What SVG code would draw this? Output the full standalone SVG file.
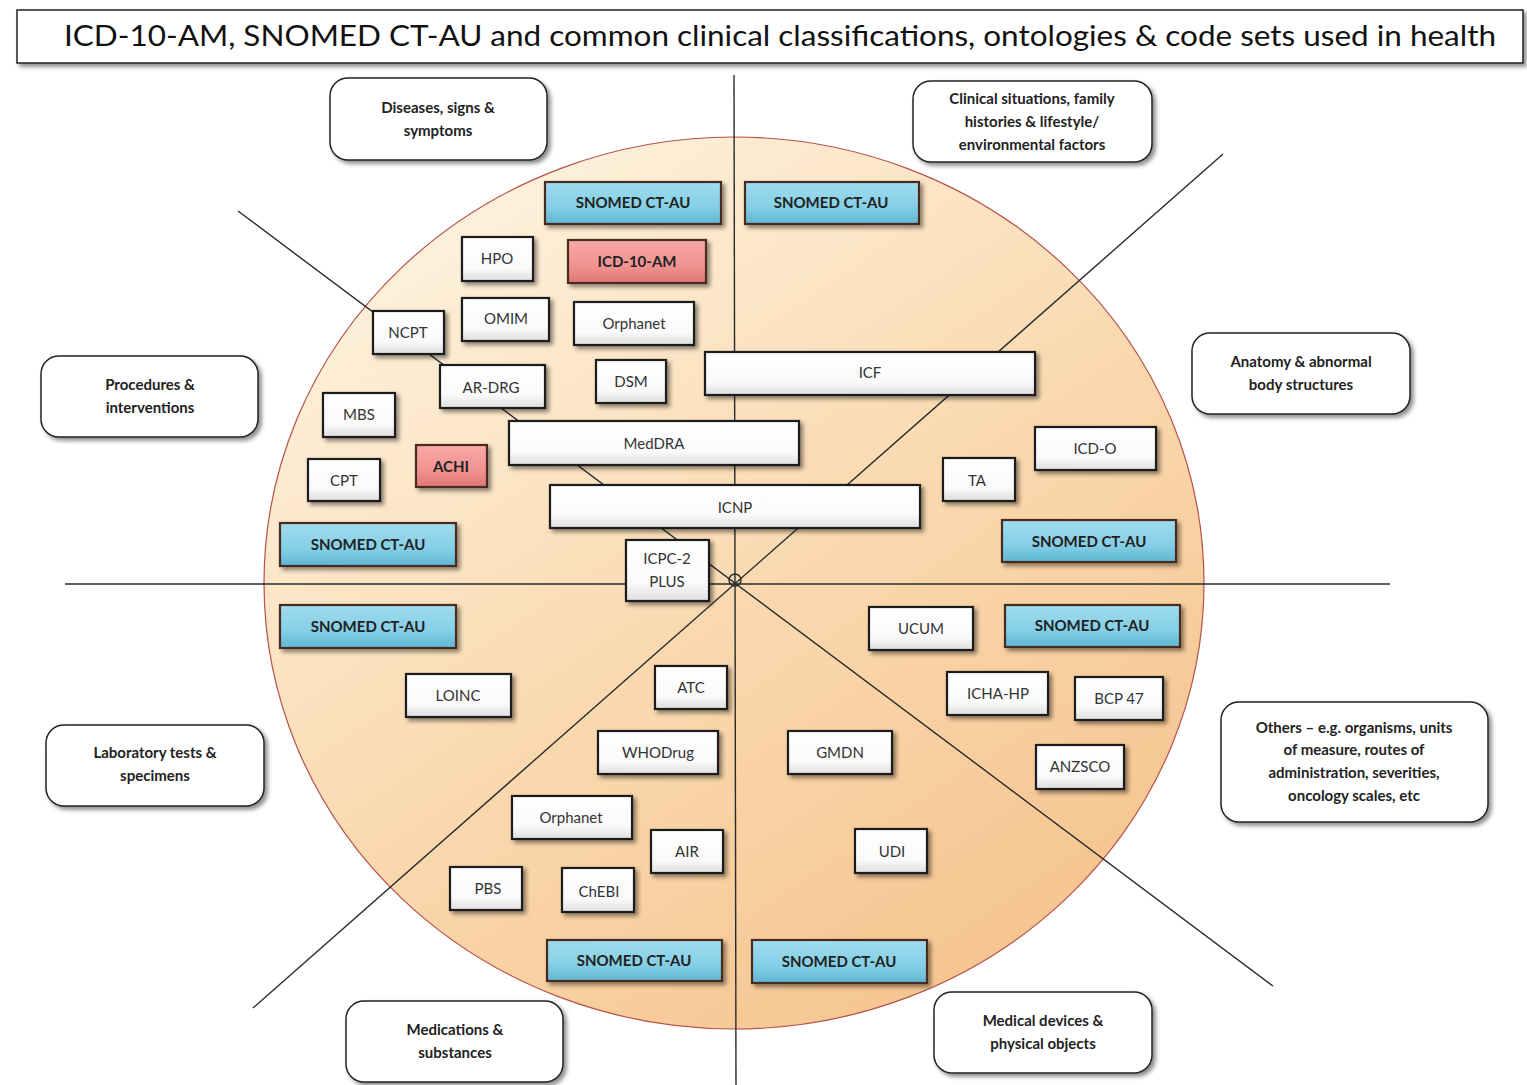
<svg xmlns="http://www.w3.org/2000/svg" width="1527" height="1085" viewBox="0 0 1527 1085">
<defs>
<linearGradient id="disc" x1="0.2" y1="0.1" x2="0.8" y2="0.95">
<stop offset="0" stop-color="#fdf0da"/>
<stop offset="0.5" stop-color="#fad9b0"/>
<stop offset="1" stop-color="#f5c48e"/>
</linearGradient>
<linearGradient id="wg" x1="0" y1="0" x2="0" y2="1">
<stop offset="0" stop-color="#ffffff"/>
<stop offset="0.7" stop-color="#fafafa"/>
<stop offset="1" stop-color="#dedede"/>
</linearGradient>
<linearGradient id="bg" x1="0" y1="0" x2="0" y2="1">
<stop offset="0" stop-color="#9fdcee"/>
<stop offset="0.6" stop-color="#85cfe6"/>
<stop offset="1" stop-color="#5fb6d2"/>
</linearGradient>
<linearGradient id="pg" x1="0" y1="0" x2="0" y2="1">
<stop offset="0" stop-color="#f8a8a6"/>
<stop offset="0.6" stop-color="#f09390"/>
<stop offset="1" stop-color="#e07774"/>
</linearGradient>
<filter id="sh" x="-10%" y="-20%" width="130%" height="150%">
<feDropShadow dx="3" dy="3" stdDeviation="2" flood-color="#000" flood-opacity="0.45"/>
</filter>
</defs>
<style>
.t{font-family:Lato,"Open Sans","Liberation Sans",sans-serif;font-size:15px;fill:#333;text-anchor:middle}
.b{font-weight:bold;fill:#222}
.cat{fill:#fff;stroke:#222;stroke-width:1.5;filter:url(#sh)}
.box{fill:url(#wg);stroke:#1e1e1e;stroke-width:2.2;filter:url(#sh)}
.blue{fill:url(#bg);stroke:#4a2a22;stroke-width:2.2;filter:url(#sh)}
.pink{fill:url(#pg);stroke:#4a2a22;stroke-width:2.2;filter:url(#sh)}
.ln{stroke:#2a2a2a;stroke-width:1.4;fill:none}
</style>
<rect width="1527" height="1085" fill="#fff"/>
<g id="title">
<rect x="17" y="10" width="1506" height="53" fill="#fff" stroke="#222" stroke-width="1.5" filter="url(#sh)"/>
<text x="780" y="46" class="t" style="font-size:28px;fill:#111" textLength="1432" lengthAdjust="spacingAndGlyphs">ICD-10-AM, SNOMED CT-AU and common clinical classifications, ontologies &amp; code sets used in health</text>
</g>
<ellipse id="disc-bg" cx="734" cy="583" rx="470" ry="446" fill="url(#disc)" stroke="#b5524a" stroke-width="1.2"/>
<g id="connectors">
<line class="ln" x1="734" y1="75" x2="736" y2="1085"/>
<line class="ln" x1="65" y1="584" x2="1390" y2="584"/>
<line class="ln" x1="238" y1="211" x2="1273" y2="986"/>
<line class="ln" x1="1223" y1="154" x2="253" y2="1008"/>
<circle class="ln" cx="735" cy="580" r="6"/>
</g>
<g id="cat-diseases"><rect class="cat" x="330" y="78" width="217" height="82" rx="18"/><text class="t b" x="438" y="113">Diseases, signs &amp;</text><text class="t b" x="438" y="136">symptoms</text></g>
<g id="cat-clinical"><rect class="cat" x="913" y="81" width="239" height="81" rx="18"/><text class="t b" x="1032" y="104">Clinical situations, family</text><text class="t b" x="1032" y="127">histories &amp; lifestyle/</text><text class="t b" x="1032" y="150">environmental factors</text></g>
<g id="cat-procedures"><rect class="cat" x="41" y="356" width="217" height="81" rx="18"/><text class="t b" x="150" y="390">Procedures &amp;</text><text class="t b" x="150" y="413">interventions</text></g>
<g id="cat-anatomy"><rect class="cat" x="1192" y="333" width="218" height="81" rx="18"/><text class="t b" x="1301" y="367">Anatomy &amp; abnormal</text><text class="t b" x="1301" y="390">body structures</text></g>
<g id="cat-lab"><rect class="cat" x="46" y="725" width="218" height="81" rx="18"/><text class="t b" x="155" y="758">Laboratory tests &amp;</text><text class="t b" x="155" y="781">specimens</text></g>
<g id="cat-others"><rect class="cat" x="1221" y="702" width="267" height="120" rx="18"/><text class="t b" x="1354" y="733">Others – e.g. organisms, units</text><text class="t b" x="1354" y="755">of measure, routes of</text><text class="t b" x="1354" y="778">administration, severities,</text><text class="t b" x="1354" y="801">oncology scales, etc</text></g>
<g id="cat-medications"><rect class="cat" x="346" y="1001" width="217" height="81" rx="18"/><text class="t b" x="455" y="1035">Medications &amp;</text><text class="t b" x="455" y="1058">substances</text></g>
<g id="cat-devices"><rect class="cat" x="934" y="992" width="218" height="81" rx="18"/><text class="t b" x="1043" y="1026">Medical devices &amp;</text><text class="t b" x="1043" y="1049">physical objects</text></g>

<g id="snomed-1"><rect class="blue" x="545" y="182" width="176" height="42"/><text class="t b" x="633" y="208">SNOMED CT-AU</text></g>
<g id="snomed-2"><rect class="blue" x="745" y="182" width="174" height="42"/><text class="t b" x="831" y="208">SNOMED CT-AU</text></g>
<g id="hpo"><rect class="box" x="462" y="237" width="71" height="44"/><text class="t" x="497" y="264">HPO</text></g>
<g id="icd10am"><rect class="pink" x="568" y="240" width="138" height="43"/><text class="t b" x="637" y="267">ICD-10-AM</text></g>
<g id="omim"><rect class="box" x="462" y="298" width="87" height="43"/><text class="t" x="506" y="324">OMIM</text></g>
<g id="orphanet-1"><rect class="box" x="574" y="302" width="120" height="43"/><text class="t" x="634" y="329">Orphanet</text></g>
<g id="ncpt"><rect class="box" x="373" y="311" width="71" height="43"/><text class="t" x="408" y="338">NCPT</text></g>
<g id="ardrg"><rect class="box" x="440" y="365" width="105" height="43"/><text class="t" x="491" y="393">AR-DRG</text></g>
<g id="dsm"><rect class="box" x="596" y="360" width="70" height="43"/><text class="t" x="631" y="387">DSM</text></g>
<g id="icf"><rect class="box" x="705" y="352" width="330" height="43"/><text class="t" x="870" y="378">ICF</text></g>
<g id="mbs"><rect class="box" x="323" y="393" width="72" height="44"/><text class="t" x="359" y="420">MBS</text></g>
<g id="meddra"><rect class="box" x="509" y="421" width="290" height="44"/><text class="t" x="654" y="449">MedDRA</text></g>
<g id="achi"><rect class="pink" x="416" y="445" width="71" height="42"/><text class="t b" x="451" y="472">ACHI</text></g>
<g id="cpt"><rect class="box" x="308" y="459" width="72" height="42"/><text class="t" x="344" y="486">CPT</text></g>
<g id="icnp"><rect class="box" x="550" y="485" width="370" height="43"/><text class="t" x="735" y="513">ICNP</text></g>
<g id="ta"><rect class="box" x="943" y="458" width="72" height="43"/><text class="t" x="977" y="486">TA</text></g>
<g id="icdo"><rect class="box" x="1035" y="427" width="121" height="43"/><text class="t" x="1095" y="454">ICD-O</text></g>
<g id="snomed-3"><rect class="blue" x="280" y="523" width="176" height="43"/><text class="t b" x="368" y="550">SNOMED CT-AU</text></g>
<g id="snomed-4"><rect class="blue" x="1002" y="520" width="174" height="42"/><text class="t b" x="1089" y="547">SNOMED CT-AU</text></g>
<g id="icpc2"><rect class="box" x="626" y="540" width="83" height="61"/><text class="t" x="667" y="564">ICPC-2</text><text class="t" x="667" y="587">PLUS</text></g>
<g id="snomed-5"><rect class="blue" x="280" y="605" width="176" height="43"/><text class="t b" x="368" y="632">SNOMED CT-AU</text></g>
<g id="ucum"><rect class="box" x="869" y="607" width="104" height="43"/><text class="t" x="921" y="634">UCUM</text></g>
<g id="snomed-6"><rect class="blue" x="1005" y="605" width="175" height="42"/><text class="t b" x="1092" y="631">SNOMED CT-AU</text></g>
<g id="loinc"><rect class="box" x="406" y="674" width="105" height="43"/><text class="t" x="458" y="701">LOINC</text></g>
<g id="atc"><rect class="box" x="655" y="666" width="72" height="43"/><text class="t" x="691" y="693">ATC</text></g>
<g id="ichahp"><rect class="box" x="947" y="672" width="101" height="43"/><text class="t" x="998" y="699">ICHA-HP</text></g>
<g id="bcp47"><rect class="box" x="1075" y="677" width="88" height="43"/><text class="t" x="1119" y="704">BCP 47</text></g>
<g id="whodrug"><rect class="box" x="598" y="731" width="120" height="43"/><text class="t" x="658" y="758">WHODrug</text></g>
<g id="gmdn"><rect class="box" x="788" y="731" width="104" height="43"/><text class="t" x="840" y="758">GMDN</text></g>
<g id="anzsco"><rect class="box" x="1036" y="745" width="88" height="44"/><text class="t" x="1080" y="772">ANZSCO</text></g>
<g id="orphanet-2"><rect class="box" x="512" y="796" width="120" height="43"/><text class="t" x="571" y="823">Orphanet</text></g>
<g id="air"><rect class="box" x="651" y="830" width="72" height="43"/><text class="t" x="687" y="857">AIR</text></g>
<g id="udi"><rect class="box" x="855" y="829" width="72" height="44"/><text class="t" x="892" y="857">UDI</text></g>
<g id="pbs"><rect class="box" x="450" y="867" width="72" height="43"/><text class="t" x="488" y="894">PBS</text></g>
<g id="chebi"><rect class="box" x="562" y="868" width="72" height="44"/><text class="t" x="599" y="897">ChEBI</text></g>
<g id="snomed-7"><rect class="blue" x="547" y="940" width="175" height="41"/><text class="t b" x="634" y="966">SNOMED CT-AU</text></g>
<g id="snomed-8"><rect class="blue" x="752" y="940" width="175" height="43"/><text class="t b" x="839" y="967">SNOMED CT-AU</text></g>
</svg>
